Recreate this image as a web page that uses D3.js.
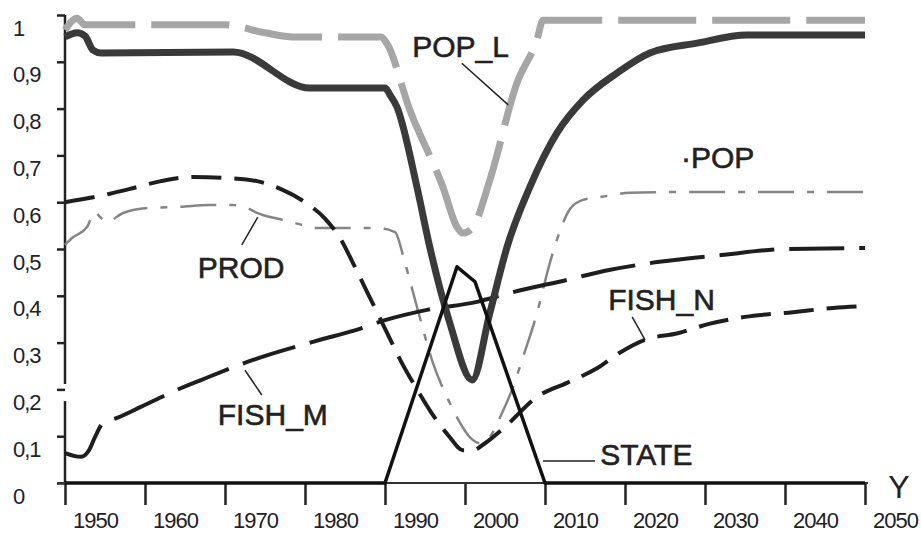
<!DOCTYPE html>
<html>
<head>
<meta charset="utf-8">
<script src="https://cdn.jsdelivr.net/npm/d3@7"></script>
<style>
  html, body { margin: 0; padding: 0; background: #ffffff; }
  svg { display: block; }
</style>
</head>
<body>
<svg id="chart" width="921" height="533"></svg>
<script>
// ---------------- DATA ----------------
const xTickYears = [1950, 1960, 1970, 1980, 1990, 2000, 2010, 2020, 2030, 2040, 2050];
const yTickValues = [0, 0.1, 0.2, 0.3, 0.4, 0.5, 0.6, 0.7, 0.8, 0.9, 1];
const yTickLabels = ["0", "0,1", "0,2", "0,3", "0,4", "0,5", "0,6", "0,7", "0,8", "0,9", "1"];

// [year, value]
const POP_L = [[1950,0.968],[1951.5,0.993],[1952.5,0.979],[1970,0.979],[1975,0.962],[1978.5,0.953],
  [1989.5,0.953],[1990.2,0.94],[1993.1,0.797],[1997.25,0.632],[1999,0.547],[1999.75,0.534],
  [2001,0.547],[2003.1,0.647],[2006.5,0.855],[2009,0.947],[2009.75,0.989],[2050,0.989]];

const POP = [[1950,0.953],[1951.5,0.962],[1952.5,0.955],[1953.5,0.925],[1954.5,0.919],[1971,0.921],
  [1980.6,0.844],[1990,0.844],[1990.6,0.83],[1991.5,0.803],[1994,0.632],[1995.6,0.504],[1998.1,0.342],
  [2000.9,0.22],[2003.1,0.363],[2005.25,0.504],[2008.1,0.632],[2011.5,0.748],[2014.75,0.818],
  [2019,0.876],[2023.1,0.919],[2029,0.94],[2035.25,0.957],[2050,0.957]];

const PROD = [[1950,0.509],[1951,0.525],[1952.75,0.547],[1953.75,0.579],[1954.4,0.568],[1955.25,0.558],
  [1957.25,0.577],[1960.6,0.588],[1964.4,0.59],[1968,0.594],[1971,0.594],[1972.75,0.588],[1974,0.577],
  [1977.25,0.562],[1979.75,0.551],[1981,0.545],[1989,0.545],[1991.25,0.536],[1992.5,0.47],[1994,0.376],
  [1996,0.256],[1998.1,0.171],[1999.4,0.128],[2000.6,0.098],[2001.9,0.085],[2003.1,0.098],[2004.4,0.141],
  [2006,0.205],[2007.25,0.269],[2009,0.363],[2010.6,0.47],[2011.9,0.54],[2013.1,0.585],[2014.75,0.605],
  [2017.25,0.612],[2020.6,0.62],[2030,0.622],[2050,0.622]];

const FISH_N = [[1950,0.600],[1954,0.612],[1958,0.628],[1962,0.645],[1966,0.654],[1970,0.652],[1974,0.645],
  [1977,0.628],[1980,0.600],[1982.5,0.565],[1984.5,0.52],[1986,0.47],[1988,0.40],[1990,0.33],[1992,0.26],
  [1994,0.20],[1996,0.145],[1998,0.10],[1999.75,0.07],[2001,0.07],[2002.5,0.085],[2005,0.12],[2009,0.184],
  [2012.75,0.214],[2016.5,0.245],[2019.5,0.28],[2022.5,0.306],[2026.6,0.32],[2030.5,0.34],[2035,0.355],
  [2041,0.365],[2046,0.374],[2050,0.378]];

const FISH_M = [[1950,0.064],[1952,0.056],[1953,0.07],[1953.75,0.098],[1954.75,0.128],[1956.5,0.139],
  [1959.4,0.162],[1964,0.199],[1967,0.22],[1973.5,0.263],[1981.9,0.306],[1986,0.325],[1990,0.348],
  [1995.25,0.37],[2001.5,0.387],[2005.6,0.406],[2012.75,0.434],[2018,0.455],[2024,0.472],[2032,0.487],
  [2040,0.5],[2050,0.502]];

const STATE = [[1950,0],[1990,0],[1999,0.462],[2001.25,0.43],[2010,0],[2050,0]];

// annotation text (anchored in data units)
const labels = [
  {text: "POP_L",  year: 1993.4, value: 0.910},
  {text: "·POP",   year: 2027.0, value: 0.673},
  {text: "PROD",   year: 1966.6, value: 0.438},
  {text: "FISH_N", year: 2017.9, value: 0.370},
  {text: "FISH_M", year: 1969.1, value: 0.124},
  {text: "STATE",  year: 2016.9, value: 0.038}
];
const leaders = [
  [[1999.6,0.897],[2005.4,0.808]],
  [[1974.1,0.568],[1972.1,0.509]],
  [[1972.5,0.241],[1974.6,0.188]],
  [[2020.9,0.355],[2022.5,0.306]],
  [[2009.75,0.047],[2016.25,0.047]]
];

// ---------------- CHART ----------------
const svg = d3.select("#chart");
const x = d3.scaleLinear().domain([1950, 2050]).range([65, 865]);
const y = d3.scaleLinear().domain([0, 1]).range([483, 15]);
const FONT = "'Liberation Sans', Arial, Helvetica, sans-serif";

// Y axis
const yAxis = d3.axisLeft(y).tickValues(yTickValues).tickSize(8)
  .tickFormat((d, i) => yTickLabels[i]);
svg.append("g").attr("transform", "translate(65,0)").call(yAxis)
  .call(g => g.select(".domain").remove())
  .call(g => g.selectAll(".tick line").attr("stroke", "#222").attr("stroke-width", 2.5))
  .call(g => g.selectAll(".tick text")
    .attr("x", -52).attr("dy", null).attr("y", 20)
    .attr("text-anchor", "start")
    .attr("font-family", FONT).attr("font-size", 22)
    .attr("letter-spacing", -1).attr("fill", "#222"));
// broken axis line
svg.append("line").attr("x1", 65).attr("x2", 65).attr("y1", y(1)).attr("y2", y(0.2115))
  .attr("stroke", "#222").attr("stroke-width", 2.5);
svg.append("line").attr("x1", 65).attr("x2", 65).attr("y1", y(0.175)).attr("y2", y(0))
  .attr("stroke", "#222").attr("stroke-width", 2.5);

// X axis
const xAxis = d3.axisBottom(x).tickValues(xTickYears).tickSize(22).tickFormat(d3.format("d"));
svg.append("g").attr("transform", "translate(0,483)").call(xAxis)
  .call(g => g.select(".domain").remove())
  .call(g => g.selectAll(".tick line").attr("stroke", "#222").attr("stroke-width", 2.5))
  .call(g => g.selectAll(".tick text")
    .attr("x", 30).attr("dy", null).attr("y", 45)
    .attr("font-family", FONT).attr("font-size", 22)
    .attr("letter-spacing", -1).attr("fill", "#222"));
svg.append("line").attr("x1", 58).attr("x2", 868).attr("y1", y(0)).attr("y2", y(0))
  .attr("stroke", "#333").attr("stroke-width", 2);

// Lines
const line = d3.line().x(d => x(d[0])).y(d => y(d[1])).curve(d3.curveMonotoneX);
const lineLin = d3.line().x(d => x(d[0])).y(d => y(d[1]));

const series = [
  {data: POP_L,  color: "#a6a6a6", width: 7,   dash: "78,16", gen: line},
  {data: PROD,   color: "#858585", width: 2.5, dash: "36,13,7,13", gen: line},
  {data: FISH_M, color: "#1e1e1e", width: 4,   dash: "55,15", gen: line},
  {data: FISH_N, color: "#1e1e1e", width: 4,   dash: "30,13", gen: line},
  {data: POP,    color: "#3a3a3a", width: 7,   dash: null, gen: line},
  {data: STATE,  color: "#111111", width: 3.5, dash: null, gen: lineLin}
];
series.forEach(s => {
  svg.append("path").attr("d", s.gen(s.data))
    .attr("fill", "none").attr("stroke", s.color).attr("stroke-width", s.width)
    .attr("stroke-dasharray", s.dash).attr("stroke-linejoin", "round");
});

// Leader lines
leaders.forEach(l => {
  svg.append("line").attr("x1", x(l[0][0])).attr("y1", y(l[0][1]))
    .attr("x2", x(l[1][0])).attr("y2", y(l[1][1]))
    .attr("stroke", "#222").attr("stroke-width", 1.5);
});

// Labels
svg.selectAll("text.lbl").data(labels).enter().append("text")
  .attr("class", "lbl")
  .attr("x", d => x(d.year)).attr("y", d => y(d.value))
  .attr("font-family", FONT).attr("font-size", 30)
  .attr("fill", "#222").attr("stroke", "#222").attr("stroke-width", 0.6)
  .text(d => d.text);

// axis name
svg.append("text").attr("x", x(2052.9)).attr("y", y(-0.032))
  .attr("font-family", FONT).attr("font-size", 32).attr("fill", "#222")
  .text("Y");
</script>
</body>
</html>
